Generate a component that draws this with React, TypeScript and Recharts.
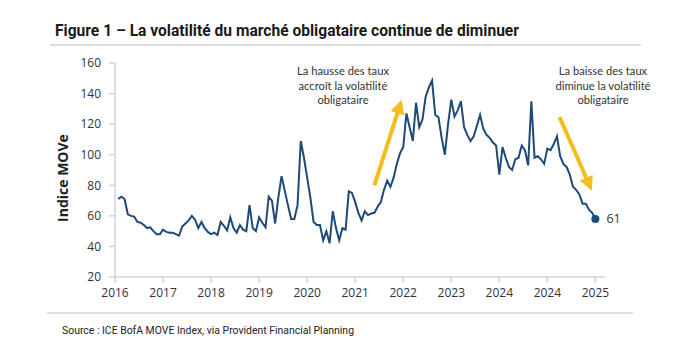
import { Line, LineChart, ReferenceLine, XAxis, YAxis } from 'recharts';

const MOVE_VALUES = [
  71, 72.5, 71, 61, 60, 59.5, 56, 55.5, 54, 52,
  52.5, 50, 48, 48, 51, 49.5, 49, 49, 48, 47,
  53, 55, 57, 60, 57.5, 52, 56, 52, 49.5, 48,
  49, 47.5, 56, 53.5, 50.5, 59, 52, 49, 54, 51,
  50, 67, 52, 50, 59, 55.5, 52.5, 72.5, 70, 55,
  72, 86, 76.5, 67, 58, 58, 67, 109, 98, 85,
  72, 56, 54, 54, 44, 50, 42, 63, 52, 44,
  52, 51, 76, 75, 69, 62, 57, 63, 60.5, 61.5,
  62, 66, 69, 77, 83, 79, 85, 94, 101, 105,
  127, 118, 109, 134, 118, 123, 138, 144, 148.5, 126,
  124.5, 111, 100, 120, 136, 125, 129, 135, 118, 113,
  109, 112, 119, 126, 117, 113, 111, 108, 106, 87,
  105, 98, 92, 90, 97, 98, 106, 103, 93, 135,
  98, 99, 97, 94, 104, 103, 107, 112, 99, 94,
  92, 87, 79, 77, 74, 68, 68, 64, 62, 58,
];

const X_TICKS = [0, 15, 30, 45, 60, 75, 90, 105, 120, 135, 150];
const TICK_LABELS = ['2016', '2017', '2018', '2019', '2020', '2021', '2022', '2023', '2024', '2024', '2025'];
const Y_TICKS = [20, 40, 60, 80, 100, 120, 140, 160];
const END_LABEL = '61';

// annotation arrows, in data coordinates
const RISE_ARROW = [{ x: 81, y: 80 }, { x: 89.5, y: 136 }];
const FALL_ARROW = [{ x: 138.8, y: 124.7 }, { x: 148.9, y: 76.5 }];

const NAVY = '#1d4a77';
const GOLD = '#f2bd1d';
const AXIS = '#cfd4dc';
const TEXT = '#333333';

const rows = MOVE_VALUES.map((v, i) => ({ s: i + 1, v }));

function Arrow(props: any) {
  const { x1, y1, x2, y2 } = props;
  const dx = x2 - x1;
  const dy = y2 - y1;
  const len = Math.hypot(dx, dy) || 1;
  const ux = dx / len;
  const uy = dy / len;
  const head = 14;
  const half = 7;
  const bx = x2 - ux * head;
  const by = y2 - uy * head;
  return (
    <g>
      <line x1={x1} y1={y1} x2={bx + ux} y2={by + uy} stroke={GOLD} strokeWidth={4} />
      <polygon
        points={`${x2},${y2} ${bx - uy * half},${by + ux * half} ${bx + uy * half},${by - ux * half}`}
        fill={GOLD}
      />
    </g>
  );
}

function EndDot(props: any) {
  const { cx, cy, index } = props;
  if (index !== rows.length - 1) return <g key={`d${index}`} />;
  return (
    <g key="end">
      <circle cx={cx} cy={cy} r={4} fill={NAVY} />
      <text x={cx + 11} y={cy + 4.5} fill={TEXT} fontSize={12.5} fontFamily="'Open Sans', sans-serif">
        {END_LABEL}
      </text>
    </g>
  );
}

const note: React.CSSProperties = {
  position: 'absolute',
  width: 150,
  textAlign: 'center',
  fontFamily: "Lato, 'Open Sans', sans-serif",
  fontSize: 11.2,
  lineHeight: '14.5px',
  color: TEXT,
};

export default function App() {
  return (
    <div style={{ position: 'relative', width: 691, height: 364, background: '#fff', overflow: 'hidden' }}>
      <style>{'body{margin:0}'}</style>
      <svg width={691} height={364} style={{ position: 'absolute', left: 0, top: 0 }}>
        <text
          x={55}
          y={36}
          textLength={464}
          lengthAdjust="spacingAndGlyphs"
          fontFamily="Roboto, sans-serif"
          fontWeight={700}
          fontSize={16}
          fill="#1a1a1a"
        >
          Figure 1 – La volatilité du marché obligataire continue de diminuer
        </text>
        <rect x={50} y={44} width={591} height={2} fill="#dcdcdc" />
        <rect x={47} y={312} width={586} height={2} fill="#e0e0e0" />
        <text
          x={62}
          y={334}
          textLength={292}
          lengthAdjust="spacingAndGlyphs"
          fontFamily="Roboto, sans-serif"
          fontSize={10.5}
          fill="#222"
        >
          Source : ICE BofA MOVE Index, via Provident Financial Planning
        </text>
      </svg>

      <LineChart
        width={691}
        height={364}
        data={rows}
        margin={{ top: 63, right: 86, left: 55, bottom: 57 }}
        style={{ position: 'absolute', left: 0, top: 0 }}
      >
        <XAxis
          type="number"
          dataKey="s"
          domain={[0, 153]}
          ticks={X_TICKS}
          interval={0}
          height={30}
          tickFormatter={(v: number) => TICK_LABELS[X_TICKS.indexOf(v)] ?? ''}
          axisLine={{ stroke: AXIS, strokeWidth: 1.5 }}
          tickLine={{ stroke: AXIS, strokeWidth: 1.5 }}
          tickSize={6}
          tickMargin={5}
          tick={{ fill: TEXT, fontSize: 12, fontFamily: "'Open Sans', sans-serif" }}
        />
        <YAxis
          type="number"
          domain={[20, 160]}
          ticks={Y_TICKS}
          interval={0}
          width={60}
          axisLine={{ stroke: AXIS, strokeWidth: 1.5 }}
          tickLine={{ stroke: AXIS, strokeWidth: 1.5 }}
          tickSize={6}
          tickMargin={8}
          tick={{ fill: TEXT, fontSize: 12, fontFamily: "'Open Sans', sans-serif" }}
        />
        <ReferenceLine segment={RISE_ARROW} shape={Arrow} ifOverflow="visible" />
        <ReferenceLine segment={FALL_ARROW} shape={Arrow} ifOverflow="visible" />
        <Line
          type="linear"
          dataKey="v"
          stroke={NAVY}
          strokeWidth={2}
          dot={EndDot}
          activeDot={false}
          isAnimationActive={false}
        />
      </LineChart>

      <div
        style={{
          position: 'absolute',
          left: 3,
          top: 168,
          width: 120,
          height: 20,
          lineHeight: '20px',
          textAlign: 'center',
          transform: 'rotate(-90deg)',
          fontFamily: "'Open Sans', sans-serif",
          fontWeight: 700,
          fontSize: 14,
          color: '#222',
        }}
      >
        Indice MOVe
      </div>

      <div style={{ ...note, left: 268, top: 64 }}>
        La hausse des taux
        <br />
        accroît la volatilité
        <br />
        obligataire
      </div>
      <div style={{ ...note, left: 528, top: 64 }}>
        La baisse des taux
        <br />
        diminue la volatilité
        <br />
        obligataire
      </div>
    </div>
  );
}
